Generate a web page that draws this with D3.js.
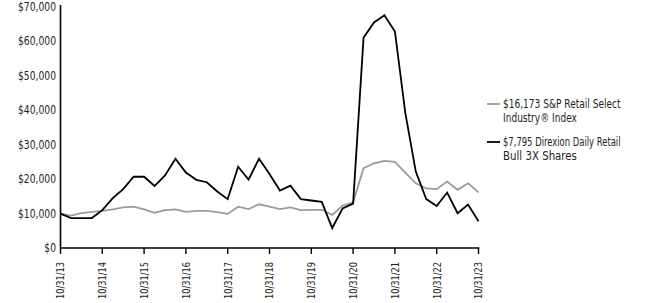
<!DOCTYPE html>
<html>
<head>
<meta charset="utf-8">
<script src="https://cdn.jsdelivr.net/npm/d3@7"></script>
<style>
  body { margin: 0; background: #fff; }
  svg text { font-family: "Liberation Sans Narrow", "Arial Narrow", "DejaVu Sans Condensed", sans-serif; fill: #231f20; }
</style>
</head>
<body>
<div id="chart"></div>
<script>
// Growth of $10,000, quarterly values 10/31/13 - 10/31/23
const tickLabels = ['10/31/13', '10/31/14', '10/31/15', '10/31/16', '10/31/17', '10/31/18',
    '10/31/19', '10/31/20', '10/31/21', '10/31/22', '10/31/23'];

const indexValues = [10000, 9400, 10100, 10500, 10800, 11200, 11800, 12000, 11200, 10200,
    11000, 11200, 10500, 10800, 10800, 10400, 9900, 12000, 11300, 12700,
    12000, 11300, 11800, 11000, 11100, 11100, 9600, 12300, 13200, 23200,
    24600, 25300, 25000, 21900, 18800, 17300, 17100, 19300, 16900, 18800,
    16173];

const fundValues = [10000, 8700, 8700, 8700, 11000, 14500, 17100, 20700, 20700, 18000,
    21100, 25900, 21900, 19800, 19100, 16400, 14200, 23600, 19900, 25900,
    21500, 16700, 18100, 14200, 13800, 13400, 5800, 11500, 12900, 61100,
    65500, 67600, 62900, 39200, 22200, 14200, 12200, 16100, 10100, 12600,
    7795];

const yTicks = [0, 10000, 20000, 30000, 40000, 50000, 60000, 70000];

const series = [
    { lines: ['$16,173 S&P Retail Select', 'Industry\u00ae Index'], values: indexValues, color: '#9b9b9b' },
    { lines: ['$7,795 Direxion Daily Retail', 'Bull 3X Shares'], values: fundValues, color: '#000000' }
];

const width = 671, height = 303;
const plotLeft = 60.5, plotRight = 478.5, plotTop = 7, plotBottom = 248;

const svg = d3.select('#chart').append('svg')
    .attr('width', width)
    .attr('height', height);

const x = d3.scaleLinear().domain([0, fundValues.length - 1]).range([plotLeft, plotRight]);
const y = d3.scaleLinear().domain([0, 70000]).range([plotBottom, plotTop]);

// squeeze a group of texts so that the widest one gets the target width
// (the original uses a condensed face we don't have)
function fitWidth(sel, target) {
    const lens = sel.nodes().map(n => n.getComputedTextLength());
    const k = Math.min(1, target / d3.max(lens));
    sel.each(function(d, i) {
        d3.select(this)
            .attr('textLength', lens[i] * k)
            .attr('lengthAdjust', 'spacingAndGlyphs');
    });
}

// y axis labels
const yLabels = svg.append('g')
    .selectAll('text')
    .data(yTicks)
    .join('text')
    .attr('x', 56)
    .attr('y', d => y(d))
    .attr('dy', '0.35em')
    .attr('text-anchor', 'end')
    .attr('font-size', 11.5)
    .text(d => d3.format('$,')(d));
fitWidth(yLabels, 38);

// lines
const line = d3.line()
    .x((d, i) => x(i))
    .y(d => y(d));

series.forEach(s => {
    svg.append('path')
        .datum(s.values)
        .attr('fill', 'none')
        .attr('stroke', s.color)
        .attr('stroke-width', 1.8)
        .attr('stroke-linejoin', 'miter')
        .attr('d', line);
});

// axes
svg.append('line')
    .attr('x1', plotLeft).attr('x2', plotLeft)
    .attr('y1', 5).attr('y2', plotBottom)
    .attr('stroke', '#000').attr('stroke-width', 1.6);

svg.append('line')
    .attr('x1', plotLeft).attr('x2', plotRight + 0.8)
    .attr('y1', plotBottom).attr('y2', plotBottom)
    .attr('stroke', '#000').attr('stroke-width', 1.6);

const xTicks = svg.append('g')
    .selectAll('g')
    .data(tickLabels)
    .join('g')
    .attr('transform', (d, i) => `translate(${x(i * 4)},${plotBottom})`);

xTicks.append('line')
    .attr('y1', 0).attr('y2', 6)
    .attr('stroke', '#000').attr('stroke-width', 1.4);

const xLabels = xTicks.append('text')
    .attr('transform', 'rotate(-90)')
    .attr('x', -14)
    .attr('y', 0)
    .attr('dy', '0.35em')
    .attr('text-anchor', 'end')
    .attr('font-size', 11)
    .text(d => d);
fitWidth(xLabels, 37);

// legend
const legend = svg.append('g')
    .selectAll('g')
    .data(series)
    .join('g')
    .attr('transform', (d, i) => `translate(487,${104 + i * 38})`);

legend.append('line')
    .attr('x1', 0).attr('x2', 13)
    .attr('stroke', d => d.color)
    .attr('stroke-width', 1.8);

const legendText = legend.selectAll('text')
    .data(d => d.lines)
    .join('text')
    .attr('x', 16)
    .attr('y', (d, i) => i * 14)
    .attr('dy', '0.35em')
    .attr('font-size', 11.5)
    .text(d => d);
fitWidth(legendText, 126);
</script>
</body>
</html>
